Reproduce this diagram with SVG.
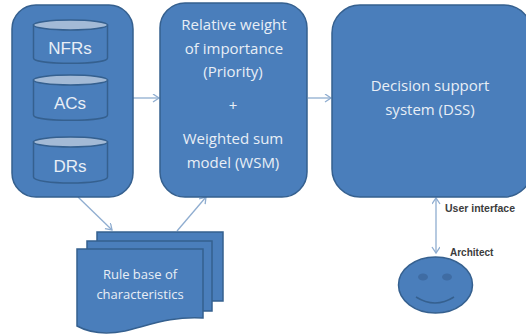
<svg xmlns="http://www.w3.org/2000/svg" width="526" height="335" viewBox="0 0 526 335">
<style>
.s{fill:#4a7ebb;stroke:#35608f;stroke-width:1.5}
.t{font-family:"Open Sans","Liberation Sans",Arial,sans-serif;fill:#e8eef6;text-anchor:middle;font-size:15px;font-weight:500}
.r{font-size:13px}
.b{font-family:"Liberation Sans",Arial,sans-serif;font-size:17px;font-weight:500}
.top{fill:#a3bad6;stroke:#35608f;stroke-width:1.5}
.c{fill:none;stroke:#8fadd0;stroke-width:1.3}
.l{font-family:"Liberation Sans",Arial,sans-serif;fill:#3c3c3c;font-weight:bold}
</style>
<defs>
<marker id="a" markerWidth="9" markerHeight="10" refX="7" refY="4" orient="auto-start-reverse" markerUnits="userSpaceOnUse"><path d="M1 0L7 4L1 8" fill="none" stroke="#8fadd0" stroke-width="1.3"/></marker>
</defs>
<g id="connectors">
<path class="c" d="M133 98H159" marker-end="url(#a)"/>
<path class="c" d="M308 98H331" marker-end="url(#a)"/>
<path class="c" d="M78 197L112 230" marker-end="url(#a)"/>
<path class="c" d="M177 231L206 197" marker-end="url(#a)"/>
<path class="c" d="M436 198V253" marker-start="url(#a)" marker-end="url(#a)"/>
</g>
<g id="sources">
<rect class="s" x="12" y="5" width="121" height="192" rx="24"/>
<g id="nfrs"><path class="s" d="M33.500 25V58C33.500 65 107.500 65 107.500 58V25Z"/><ellipse class="top" cx="70.500" cy="25" rx="37" ry="5"/><text class="t b" x="70" y="54">NFRs</text></g>
<g id="acs"><path class="s" d="M33.500 80V115C33.500 122 107.500 122 107.500 115V80Z"/><ellipse class="top" cx="70.500" cy="80" rx="37" ry="5"/><text class="t b" x="70" y="109">ACs</text></g>
<g id="drs"><path class="s" d="M33.500 142V177C33.500 185 107.500 185 107.500 177V142Z"/><ellipse class="top" cx="70.500" cy="142" rx="37" ry="5"/><text class="t b" x="70" y="172">DRs</text></g>
</g>
<g id="wsm">
<rect class="s" x="160" y="3" width="147" height="194" rx="25"/>
<text class="t" x="234" y="30">Relative weight</text>
<text class="t" x="234" y="54">of importance</text>
<text class="t" x="233" y="77">(Priority)</text>
<text class="t" x="233" y="111">+</text>
<text class="t" x="233" y="144">Weighted sum</text>
<text class="t" x="233" y="168">model (WSM)</text>
</g>
<g id="dss">
<rect class="s" x="332" y="5" width="200" height="192" rx="28"/>
<text class="t" x="430" y="91">Decision support</text>
<text class="t" x="430" y="115">system (DSS)</text>
</g>
<g id="rules">
<rect class="s" x="97" y="232" width="126" height="69"/>
<rect class="s" x="87" y="241" width="125" height="70"/>
<path class="s" d="M77 249H203V318C172 316 150 325 125 331C105 335 88 332 77 326Z"/>
<text class="t r" x="140" y="279">Rule base of</text>
<text class="t r" x="140" y="299">characteristics</text>
</g>
<g id="architect">
<ellipse class="s" cx="435.500" cy="285" rx="37" ry="28"/>
<ellipse cx="423" cy="277" rx="5" ry="3.500" fill="#3f6ca3"/>
<ellipse cx="447" cy="277" rx="5" ry="3.500" fill="#3f6ca3"/>
<path d="M416 297Q435 309 454 297" fill="none" stroke="#35608f" stroke-width="1.500"/>
<text class="l" x="450" y="256" font-size="10">Architect</text>
</g>
<text class="l" x="445" y="212" font-size="10.500">User interface</text>
</svg>
